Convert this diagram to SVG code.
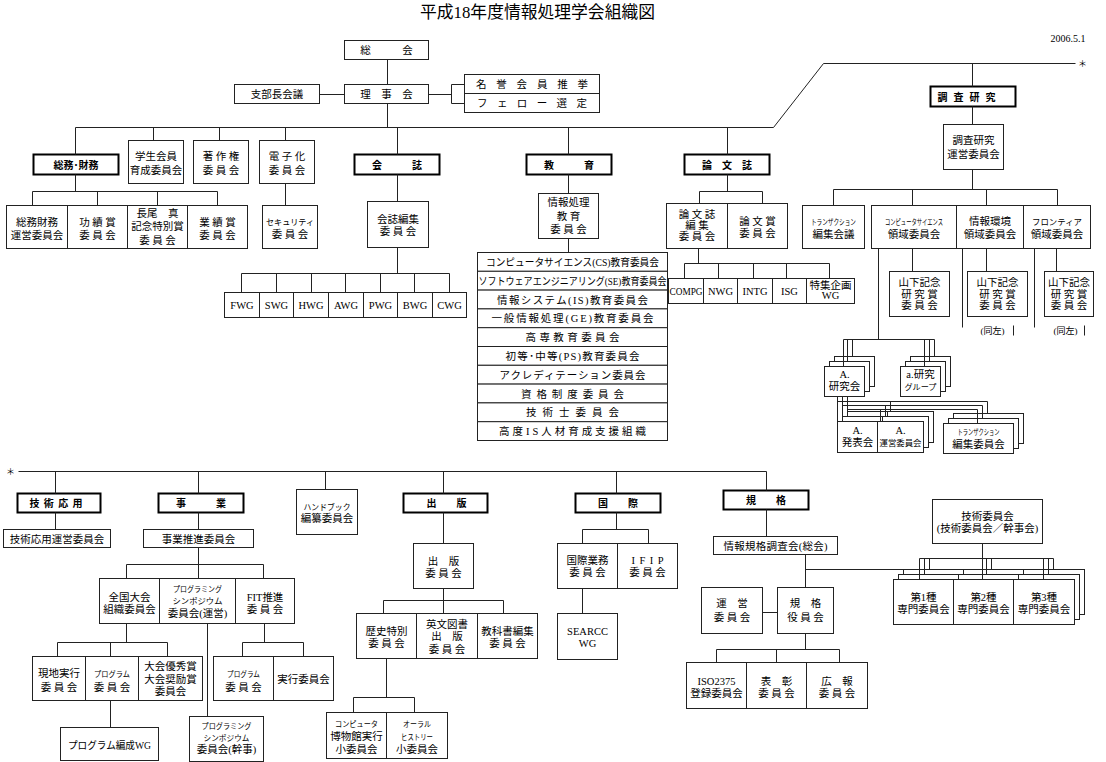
<svg xmlns="http://www.w3.org/2000/svg" width="1106" height="762" viewBox="0 0 1106 762">
<style>
.b{fill:#fff;stroke:#222;stroke-width:1}
.h{fill:#fff;stroke:#000;stroke-width:2}
.c{fill:none;stroke:#222;stroke-width:1}
text{font-family:"Liberation Serif","Noto Sans CJK JP",serif;font-size:10.5px;fill:#000;text-anchor:middle}
.hd{font-family:"Noto Sans CJK JP","Liberation Sans",sans-serif;font-size:10px;font-weight:bold}
.sm{font-size:8.5px}
.xs{font-size:8px}
.tt{font-size:17px}
</style>
<rect x="0" y="0" width="1106" height="762" fill="#fff"/>
<g transform="translate(0.5 0.5)">
<text class="tt" x="537" y="17" textLength="235" lengthAdjust="spacingAndGlyphs">平成18年度情報処理学会組織図</text>
<text x="1085" y="41" style="font-size:10px;text-anchor:end">2006.5.1</text>
<text x="1082" y="66" style="font-size:9px">＊</text>
<text x="10" y="474.5" style="font-size:9px">＊</text>

<g id="nodes">
<g id="soukai"><rect class="b" x="344" y="40" width="84" height="19"/><text x="386" y="53.5">総　　　会</text></g>
<g id="rijikai"><rect class="b" x="344" y="84" width="84" height="19"/><text x="386" y="97.5">理　事　会</text></g>
<g id="shibucho"><rect class="b" x="234" y="84" width="85" height="19"/><text x="276.5" y="97.5">支部長会議</text></g>
<g id="meiyo"><rect class="b" x="464" y="74" width="135" height="19"/><text x="531.5" y="87.5" textLength="112">名 誉 会 員 推 挙</text></g>
<g id="fellow"><rect class="b" x="464" y="93" width="135" height="19"/><text x="531.5" y="106.5" textLength="110">フ ェ ロ ー 選 定</text></g>

<g id="soumu"><rect class="h" x="33" y="154" width="85" height="20"/><text class="hd" x="75.5" y="168">総務･財務</text></g>
<g id="gakusei"><rect class="b" x="128" y="140" width="55" height="43"/><text x="155.5" y="159">学生会員</text><text x="155.5" y="173">育成委員会</text></g>
<g id="chosaku"><rect class="b" x="193" y="140" width="55" height="43"/><text x="220.5" y="159">著 作 権</text><text x="220.5" y="173">委 員 会</text></g>
<g id="denshi"><rect class="b" x="259" y="140" width="55" height="43"/><text x="286.5" y="159">電 子 化</text><text x="286.5" y="173">委 員 会</text></g>
<g id="kaishi"><rect class="h" x="354" y="154" width="85" height="20"/><text class="hd" x="396.5" y="168">会　　　誌</text></g>
<g id="kyoiku"><rect class="h" x="526" y="154" width="85" height="20"/><text class="hd" x="568.5" y="168">教　　　育</text></g>
<g id="ronbunshi"><rect class="h" x="684" y="154" width="85" height="20"/><text class="hd" x="726.5" y="168">論　文　誌</text></g>
<g id="chosa"><rect class="h" x="930" y="86" width="85" height="20"/><text class="hd" x="966" y="100" textLength="58">調 査 研 究</text></g>

<g id="soumu-unei"><rect class="b" x="6" y="205" width="61" height="43"/><text x="36.5" y="225">総務財務</text><text x="36.5" y="238">運営委員会</text></g>
<g id="koseki"><rect class="b" x="67" y="205" width="60" height="43"/><text x="97" y="225">功 績 賞</text><text x="97" y="238">委 員 会</text></g>
<g id="nagao"><rect class="b" x="127" y="205" width="60" height="43"/><text x="157" y="216">長尾　真</text><text x="157" y="229.5">記念特別賞</text><text x="157" y="243">委 員 会</text></g>
<g id="gyoseki"><rect class="b" x="187" y="205" width="60" height="43"/><text x="217" y="225">業 績 賞</text><text x="217" y="238">委 員 会</text></g>
<g id="security"><rect class="b" x="262" y="205" width="55" height="43"/><text class="sm" x="289.5" y="224" textLength="48" lengthAdjust="spacingAndGlyphs">セキュリティ</text><text x="289.5" y="237">委 員 会</text></g>
<g id="kaishi-henshu"><rect class="b" x="367" y="201" width="61" height="46"/><text x="397.5" y="222">会誌編集</text><text x="397.5" y="234.5">委 員 会</text></g>

<g id="fwg"><rect class="b" x="224" y="292" width="35" height="25"/><text x="241.5" y="308.5">FWG</text></g>
<g id="swg"><rect class="b" x="259" y="292" width="34" height="25"/><text x="276" y="308.5">SWG</text></g>
<g id="hwg"><rect class="b" x="293" y="292" width="35" height="25"/><text x="310.5" y="308.5">HWG</text></g>
<g id="awg"><rect class="b" x="328" y="292" width="35" height="25"/><text x="345.5" y="308.5">AWG</text></g>
<g id="pwg"><rect class="b" x="363" y="292" width="34" height="25"/><text x="380" y="308.5">PWG</text></g>
<g id="bwg"><rect class="b" x="397" y="292" width="35" height="25"/><text x="414.5" y="308.5">BWG</text></g>
<g id="cwg"><rect class="b" x="432" y="292" width="34" height="25"/><text x="449" y="308.5">CWG</text></g>

<g id="joho-kyoiku"><rect class="b" x="538" y="193" width="60" height="45"/><text x="568" y="205.5">情報処理</text><text x="568" y="219">教 育</text><text x="568" y="232">委 員 会</text></g>
<g id="cs-kyoiku"><rect class="b" x="477" y="252" width="190" height="18.8"/><text x="572" y="265.4" textLength="173" lengthAdjust="spacingAndGlyphs">コンピュータサイエンス(CS)教育委員会</text></g>
<g id="se-kyoiku"><rect class="b" x="477" y="270.8" width="190" height="18.8"/><text x="572" y="284.2" textLength="188" lengthAdjust="spacingAndGlyphs">ソフトウェアエンジニアリング(SE)教育委員会</text></g>
<g id="is-kyoiku"><rect class="b" x="477" y="289.6" width="190" height="18.8"/><text x="572" y="303" textLength="151">情報システム(IS)教育委員会</text></g>
<g id="ge-kyoiku"><rect class="b" x="477" y="308.4" width="190" height="18.8"/><text x="572" y="321.8" textLength="162">一般情報処理(GE)教育委員会</text></g>
<g id="kosen"><rect class="b" x="477" y="327.2" width="190" height="18.8"/><text x="572" y="340.6" textLength="94">高専教育委員会</text></g>
<g id="ps-kyoiku"><rect class="b" x="477" y="346" width="190" height="18.8"/><text x="572" y="359.4" textLength="134">初等･中等(PS)教育委員会</text></g>
<g id="accreditation"><rect class="b" x="477" y="364.8" width="190" height="18.8"/><text x="572" y="378.2" textLength="146">アクレディテーション委員会</text></g>
<g id="shikaku"><rect class="b" x="477" y="383.6" width="190" height="18.8"/><text x="572" y="397" textLength="103">資格制度委員会</text></g>
<g id="gijutsushi"><rect class="b" x="477" y="402.4" width="190" height="18.8"/><text x="572" y="415.8" textLength="93">技術士委員会</text></g>
<g id="kodo-is"><rect class="b" x="477" y="421.2" width="190" height="18.8"/><text x="572" y="434.6" textLength="147">高度IS人材育成支援組織</text></g>

<g id="ronbunshi-henshu"><rect class="b" x="666" y="203" width="61" height="45"/><text x="696.5" y="217.3">論 文 誌</text><text x="696.5" y="228.3">編 集</text><text x="696.5" y="239.3">委 員 会</text></g>
<g id="ronbunsho"><rect class="b" x="727" y="203" width="60" height="45"/><text x="757" y="224">論 文 賞</text><text x="757" y="236">委 員 会</text></g>
<g id="compg"><rect class="b" x="668" y="278" width="35" height="25"/><text x="685.5" y="294.5" textLength="33" lengthAdjust="spacingAndGlyphs">COMPG</text></g>
<g id="nwg"><rect class="b" x="703" y="278" width="34" height="25"/><text x="720" y="294.5">NWG</text></g>
<g id="intg"><rect class="b" x="737" y="278" width="35" height="25"/><text x="754.5" y="294.5">INTG</text></g>
<g id="isg"><rect class="b" x="772" y="278" width="34" height="25"/><text x="789" y="294.5">ISG</text></g>
<g id="tokushu"><rect class="b" x="806" y="278" width="48" height="25"/><text x="830" y="288">特集企画</text><text x="830" y="298.5">WG</text></g>

<g id="chosa-unei"><rect class="b" x="943" y="124" width="60" height="45"/><text x="973" y="143">調査研究</text><text x="973" y="157">運営委員会</text></g>
<g id="trans-kaigi"><rect class="b" x="802" y="205" width="62" height="43"/><text class="xs" x="833" y="224" textLength="45" lengthAdjust="spacingAndGlyphs">トランザクション</text><text x="833" y="237">編集会議</text></g>
<g id="cs-ryoiki"><rect class="b" x="871" y="205" width="85" height="43"/><text class="xs" x="913.5" y="224" textLength="58" lengthAdjust="spacingAndGlyphs">コンピュータサイエンス</text><text x="913.5" y="237">領域委員会</text></g>
<g id="kankyo-ryoiki"><rect class="b" x="956" y="205" width="67" height="43"/><text x="989.5" y="224">情報環境</text><text x="989.5" y="237">領域委員会</text></g>
<g id="frontier-ryoiki"><rect class="b" x="1023" y="205" width="67" height="43"/><text class="sm" x="1056.5" y="224" textLength="50" lengthAdjust="spacingAndGlyphs">フロンティア</text><text x="1056.5" y="237">領域委員会</text></g>
<g id="yamashita1"><rect class="b" x="889" y="271" width="60" height="45"/><text x="919" y="285.5">山下記念</text><text x="919" y="297">研 究 賞</text><text x="919" y="308.7">委 員 会</text></g>
<g id="yamashita2"><rect class="b" x="967" y="271" width="60" height="45"/><text x="997" y="285.5">山下記念</text><text x="997" y="297">研 究 賞</text><text x="997" y="308.7">委 員 会</text></g>
<g id="yamashita3"><rect class="b" x="1044" y="271" width="49" height="45"/><text x="1068.5" y="285.5">山下記念</text><text x="1068.5" y="297">研 究 賞</text><text x="1068.5" y="308.7">委 員 会</text></g>
<g id="dosa1"><text x="992" y="333" style="font-size:9px">(同左)</text></g>
<g id="dosa2"><text x="1065" y="333" style="font-size:9px">(同左)</text></g>

<g id="kenkyukai"><rect class="b" x="834" y="356" width="40" height="30"/><rect class="b" x="829" y="361" width="40" height="30"/><rect class="b" x="824" y="366" width="40" height="30"/><text x="844" y="377">A.</text><text x="844" y="389">研究会</text></g>
<g id="kenkyu-group"><rect class="b" x="910" y="356" width="40" height="30"/><rect class="b" x="905" y="361" width="40" height="30"/><rect class="b" x="900" y="366" width="40" height="30"/><text x="920" y="377">a.研究</text><text class="xs" x="920" y="389" textLength="32" lengthAdjust="spacingAndGlyphs">グループ</text></g>
<g id="happyokai-stack"><rect class="b" x="847" y="411" width="86" height="31"/><path class="c" d="M887 411V442"/><rect class="b" x="842" y="416" width="86" height="31"/><path class="c" d="M882 416V447"/></g>
<g id="happyokai"><rect class="b" x="837" y="421" width="40" height="31"/><text x="857" y="433">A.</text><text x="857" y="445">発表会</text></g>
<g id="unei-kenkyu"><rect class="b" x="877" y="421" width="46" height="31"/><text x="900" y="433">A.</text><text class="sm" x="900" y="445" textLength="42" lengthAdjust="spacingAndGlyphs">運営委員会</text></g>
<g id="trans-henshu"><rect class="b" x="953" y="413" width="70" height="30"/><rect class="b" x="948" y="418" width="70" height="30"/><rect class="b" x="943" y="423" width="70" height="30"/><text class="xs" x="978" y="434" textLength="42" lengthAdjust="spacingAndGlyphs">トランザクション</text><text x="978" y="447">編集委員会</text></g>

<g id="gijutsu-oyo"><rect class="h" x="17" y="493" width="83" height="19"/><text class="hd" x="55.5" y="506" textLength="53">技 術 応 用</text></g>
<g id="gijutsu-oyo-unei"><rect class="b" x="3" y="529" width="107" height="18"/><text x="56.5" y="542">技術応用運営委員会</text></g>
<g id="jigyo"><rect class="h" x="158" y="493" width="85" height="19"/><text class="hd" x="200.5" y="506">事　　　業</text></g>
<g id="jigyo-suishin"><rect class="b" x="143" y="529" width="110" height="18"/><text x="198" y="542">事業推進委員会</text></g>
<g id="zenkoku"><rect class="b" x="99" y="578" width="60" height="45"/><text x="129" y="600">全国大会</text><text x="129" y="612.5">組織委員会</text></g>
<g id="prosym-unei"><rect class="b" x="159" y="578" width="76" height="45"/><text class="xs" x="197" y="591" textLength="49" lengthAdjust="spacingAndGlyphs">プログラミング</text><text class="xs" x="197" y="603" textLength="50" lengthAdjust="spacingAndGlyphs">シンポジウム</text><text x="197" y="616.5">委員会(運営)</text></g>
<g id="fit"><rect class="b" x="235" y="578" width="59" height="45"/><text x="264.5" y="600">FIT推進</text><text x="264.5" y="612.5">委 員 会</text></g>
<g id="genchi"><rect class="b" x="32" y="656" width="53" height="44"/><text x="58.5" y="676.5">現地実行</text><text x="58.5" y="690">委 員 会</text></g>
<g id="program1"><rect class="b" x="85" y="656" width="53" height="44"/><text class="xs" x="111.5" y="676.5" textLength="36" lengthAdjust="spacingAndGlyphs">プログラム</text><text x="111.5" y="690">委 員 会</text></g>
<g id="yushu"><rect class="b" x="138" y="656" width="64" height="44"/><text x="170" y="669">大会優秀賞</text><text x="170" y="682">大会奨励賞</text><text x="170" y="694.5">委員会</text></g>
<g id="program-hensei"><rect class="b" x="60" y="727" width="98" height="33"/><text x="109" y="748" textLength="83" lengthAdjust="spacingAndGlyphs">プログラム編成WG</text></g>
<g id="prosym-kanji"><rect class="b" x="189" y="716" width="74" height="45"/><text class="xs" x="226" y="728.5" textLength="50" lengthAdjust="spacingAndGlyphs">プログラミング</text><text class="xs" x="226" y="740" textLength="46" lengthAdjust="spacingAndGlyphs">シンポジウム</text><text x="226" y="752.5">委員会(幹事)</text></g>
<g id="program2"><rect class="b" x="213" y="656" width="60" height="44"/><text class="xs" x="243" y="676.5" textLength="33" lengthAdjust="spacingAndGlyphs">プログラム</text><text x="243" y="690">委 員 会</text></g>
<g id="jikko"><rect class="b" x="273" y="656" width="60" height="44"/><text x="303" y="682">実行委員会</text></g>
<g id="handbook"><rect class="b" x="296" y="489" width="61" height="45"/><text class="sm" x="326.5" y="509" textLength="47" lengthAdjust="spacingAndGlyphs">ハンドブック</text><text x="326.5" y="521.5">編纂委員会</text></g>

<g id="shuppan"><rect class="h" x="403" y="493" width="84" height="19"/><text class="hd" x="446" y="506">出　　版</text></g>
<g id="shuppan-iin"><rect class="b" x="413" y="543" width="60" height="45"/><text x="443" y="564">出　版</text><text x="443" y="576.5">委 員 会</text></g>
<g id="rekishi"><rect class="b" x="356" y="613" width="60" height="45"/><text x="386" y="634.5">歴史特別</text><text x="386" y="646.5">委 員 会</text></g>
<g id="eibun"><rect class="b" x="416" y="613" width="61" height="45"/><text x="446.5" y="627">英文図書</text><text x="446.5" y="639.5">出　版</text><text x="446.5" y="652">委 員 会</text></g>
<g id="kyokasho"><rect class="b" x="477" y="613" width="60" height="45"/><text x="507" y="634.5">教科書編集</text><text x="507" y="646.5">委 員 会</text></g>
<g id="hakubutsukan"><rect class="b" x="326" y="712" width="60" height="46"/><text class="xs" x="356" y="726.5" textLength="43" lengthAdjust="spacingAndGlyphs">コンピュータ</text><text x="356" y="739.5">博物館実行</text><text x="356" y="752">小委員会</text></g>
<g id="oral"><rect class="b" x="386" y="712" width="61" height="46"/><text class="xs" x="416.5" y="726.5" textLength="28" lengthAdjust="spacingAndGlyphs">オーラル</text><text class="xs" x="416.5" y="739.5" textLength="32" lengthAdjust="spacingAndGlyphs">ヒストリー</text><text x="416.5" y="752">小委員会</text></g>

<g id="kokusai"><rect class="h" x="575" y="493" width="85" height="19"/><text class="hd" x="617.5" y="506">国　　際</text></g>
<g id="kokusai-gyomu"><rect class="b" x="557" y="543" width="60" height="45"/><text x="587" y="563">国際業務</text><text x="587" y="575.5">委 員 会</text></g>
<g id="ifip"><rect class="b" x="617" y="543" width="60" height="45"/><text x="647" y="563" textLength="32">I F I P</text><text x="647" y="575.5">委 員 会</text></g>
<g id="searcc"><rect class="b" x="557" y="613" width="60" height="46"/><text x="587" y="634">SEARCC</text><text x="587" y="646.5">WG</text></g>

<g id="kikaku"><rect class="h" x="723" y="490" width="85" height="19"/><text class="hd" x="765.5" y="503.5">規　　格</text></g>
<g id="johokikaku"><rect class="b" x="713" y="536" width="124" height="18"/><text x="775" y="549" textLength="104">情報規格調査会(総会)</text></g>
<g id="unei-kikaku"><rect class="b" x="701" y="587" width="61" height="46"/><text x="731.5" y="606.5">運　営</text><text x="731.5" y="620">委 員 会</text></g>
<g id="kikaku-yakuin"><rect class="b" x="777" y="587" width="56" height="46"/><text x="805" y="606.5">規　格</text><text x="805" y="620">役 員 会</text></g>
<g id="iso2375"><rect class="b" x="686" y="662" width="60" height="46"/><text x="716" y="684">ISO2375</text><text x="716" y="696">登録委員会</text></g>
<g id="hyosho"><rect class="b" x="746" y="662" width="60" height="46"/><text x="776" y="684">表　彰</text><text x="776" y="696">委 員 会</text></g>
<g id="koho"><rect class="b" x="806" y="662" width="61" height="46"/><text x="836.5" y="684">広　報</text><text x="836.5" y="696">委 員 会</text></g>
<g id="gijutsu-iin"><rect class="b" x="932" y="499" width="110" height="44"/><text x="987" y="519">技術委員会</text><text x="987" y="531">(技術委員会／幹事会)</text></g>
<g id="senmon-stack"><rect class="b" x="903" y="569" width="181" height="45"/><path class="c" d="M963 569V614M1023 569V614"/><rect class="b" x="898" y="574" width="181" height="45"/><path class="c" d="M958 574V619M1018 574V619"/></g>
<g id="senmon1"><rect class="b" x="893" y="579" width="60" height="45"/><text x="923" y="600.5">第1種</text><text x="923" y="612.5">専門委員会</text></g>
<g id="senmon2"><rect class="b" x="953" y="579" width="60" height="45"/><text x="983" y="600.5">第2種</text><text x="983" y="612.5">専門委員会</text></g>
<g id="senmon3"><rect class="b" x="1013" y="579" width="61" height="45"/><text x="1043.5" y="600.5">第3種</text><text x="1043.5" y="612.5">専門委員会</text></g>
</g>

<g id="connectors" class="c">
<path class="c" d="M387 59V84M319 94H344M428 94H451M451 84V103M451 84H464M451 103H464M387 103V127"/>
<path class="c" d="M75 127H773L823 63H1075M75 127V154M153 127V140M219 127V140M285 127V140M397 127V154M568 127V154M727 127V154M972 63V86"/>
<path class="c" d="M75 174V191M32 191H217M32 191V205M97 191V205M157 191V205M217 191V205M285 183V205"/>
<path class="c" d="M397 174V201M397 247V273M241 273H449M241 273V292M276 273V292M311 273V292M345 273V292M380 273V292M414 273V292M449 273V292"/>
<path class="c" d="M568 174V193M568 238V252"/>
<path class="c" d="M727 174V191M699 191H762M699 191V203M762 191V203M698 248V263M684 263H829M684 263V278M718 263V278M753 263V278M786 263V278M829 263V278"/>
<path class="c" d="M972 106V124M972 169V189M833 189H1057M833 189V205M912 189V205M986 189V205M1057 189V205"/>
<path class="c" d="M878 248V339M912 248V271M986 248V271M1056 248V271M962 248V327M1013 325V335M1034 248V327M1084 325V335"/>
<path class="c" d="M843 339H934M843 339V366M847 339V361M852 339V356M924 339V366M929 339V361M934 339V356"/>
<path class="c" d="M837 396V421M842 396V416M847 396V411M837 401H987M842 405H982M847 409H977M987 401V413M982 405V418M977 409V423M890 401V411M885 405V416M880 409V421"/>
<path class="c" d="M18 471H766M55 471V493M55 512V529M198 471V493M198 512V529M198 547V578M126 564H263M126 564V578M263 564V578"/>
<path class="c" d="M126 623V642M57 642H167M57 642V656M110 642V656M167 642V656M110 700V727M207 623V716M264 623V642M242 642H303M242 642V656M303 642V656"/>
<path class="c" d="M325 471V489M443 471V493M443 512V543M443 588V613M383 600H503M383 600V613M503 600V613M386 658V697M353 697H414M353 697V712M414 697V712"/>
<path class="c" d="M616 471V493M616 512V529M582 529H648M582 529V543M648 529V543M582 588V613"/>
<path class="c" d="M766 471V490M766 509V536M805 554V587M805 569H903M762 612H777M805 633V649M716 649H839M716 649V662M776 649V662M839 649V662"/>
<path class="c" d="M982 543V579M919 558H1053M919 558V579M924 558V574M929 558V569M986 558V574M991 558V569M1043 558V579M1048 558V574M1053 558V569"/>
</g>
</g>
</svg>
